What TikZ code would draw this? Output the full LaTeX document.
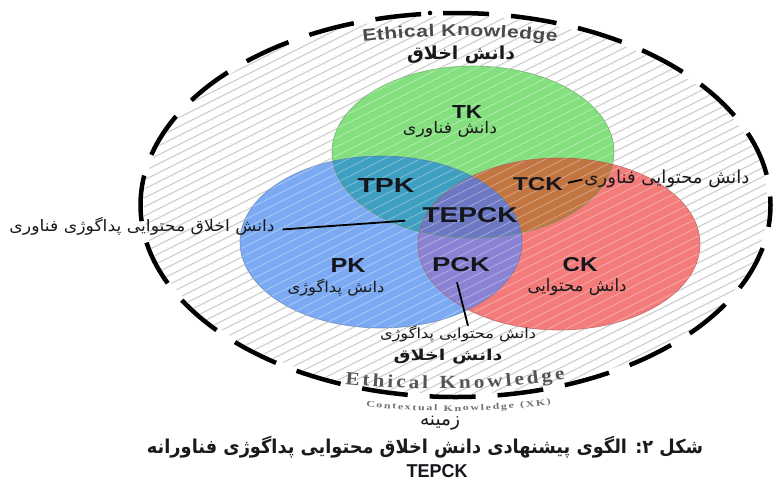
\documentclass[tikz,border=0pt]{standalone}
\usepackage{fontspec}
\usepackage{graphicx}
\usetikzlibrary{decorations.text}
\setmainfont{Liberation Sans}
\newfontfamily\fa[Script=Arabic]{DejaVu Sans}
\newfontfamily\ethA[FakeStretch=1.25]{Liberation Sans}
\newfontfamily\ethB[FakeStretch=1.15]{Liberation Serif}
\newfontfamily\ethC[FakeStretch=1.4]{Liberation Serif}
\TeXXeTstate=1
\newcommand\fabox[3]{\resizebox*{#1pt}{#2pt}{\fa #3}}
\newcommand\faboldbox[3]{\resizebox*{#1pt}{#2pt}{\fa\bfseries #3}}
\newcommand\labbox[3]{\resizebox{#1pt}{#2pt}{\bfseries #3}}
\definecolor{cgreen}{HTML}{84E07F}
\definecolor{cblue}{HTML}{7BAAF2}
\definecolor{cred}{HTML}{F37B7A}
\definecolor{ctpk}{HTML}{3E9FC0}
\definecolor{ctck}{HTML}{C27441}
\definecolor{cpck}{HTML}{8A82D2}
\definecolor{cmid}{HTML}{6C79C2}
\definecolor{hatchgray}{HTML}{B4B4B4}
\definecolor{ethgray}{HTML}{4A4A4A}
\definecolor{ethgraytwo}{HTML}{555555}
\definecolor{ctxgray}{HTML}{707070}
\definecolor{labcol}{HTML}{15151C}
\definecolor{facol}{HTML}{1A1A1A}
\tikzset{
  lab/.style={inner sep=0pt, text=labcol},
  falab/.style={inner sep=0pt, text=facol},
  conn/.style={line width=1.8pt, black},
  hatch/.style={line width=0.9pt, hatchgray},
  hatchlight/.style={line width=0.9pt, white, opacity=0.32},
}
\begin{document}
\begin{tikzpicture}[x=1pt,y=-1pt]
\useasboundingbox (0,0) rectangle (776,483);
\fill[white] (0,0) rectangle (776,483);
% hatching
\begin{scope}
  \clip (455.5,205) ellipse [x radius=312, y radius=189];
  \foreach \c in {180,189,...,700} \draw[hatch] (130,\c-65) -- (790,\c-395);
\end{scope}
% coloured sets
\fill[cgreen] (473,152) ellipse [x radius=141, y radius=86];
\fill[cblue] (381,242) ellipse [x radius=141, y radius=86];
\fill[cred] (559,244) ellipse [x radius=141, y radius=86];
\begin{scope}
  \clip (473,152) ellipse [x radius=141, y radius=86];
  \fill[ctpk] (381,242) ellipse [x radius=141, y radius=86];
  \fill[ctck] (559,244) ellipse [x radius=141, y radius=86];
\end{scope}
\begin{scope}
  \clip (381,242) ellipse [x radius=141, y radius=86];
  \fill[cpck] (559,244) ellipse [x radius=141, y radius=86];
\end{scope}
\begin{scope}
  \clip (473,152) ellipse [x radius=141, y radius=86];
  \clip (381,242) ellipse [x radius=141, y radius=86];
  \fill[cmid] (559,244) ellipse [x radius=141, y radius=86];
\end{scope}
\begin{scope}
  \clip (455.5,205) ellipse [x radius=312, y radius=189];
  \foreach \c in {180,189,...,700} \draw[hatchlight] (130,\c-65) -- (790,\c-395);
\end{scope}
\draw[cgreen!70!black, line width=0.7pt, opacity=0.6] (473,152) ellipse [x radius=141, y radius=86];
\draw[cblue!70!black, line width=0.7pt, opacity=0.6] (381,242) ellipse [x radius=141, y radius=86];
\draw[cred!70!black, line width=0.7pt, opacity=0.6] (559,244) ellipse [x radius=141, y radius=86];
% outer dashed boundary
\draw[line width=4.5pt, dash pattern=on 46pt off 22pt, dash phase=24pt] (455.5,205) ellipse [x radius=315, y radius=192];
\fill (430,13) circle (2.3);
% arched texts
\path[decorate, decoration={text along path, text={|\ethA\bfseries\fontsize{16.8}{18}\selectfont|Ethical Knowledge}, text color=ethgray, text align=fit to path}] (363,42) .. controls (430,34) and (490,34) .. (557,42);
\path[decorate, decoration={text along path, text={|\ethB\bfseries\fontsize{18.5}{20}\selectfont|Ethical Knowledge}, text color=ethgraytwo, text align=fit to path}] (345,384) .. controls (415,391) and (495,391) .. (565,379);
\path[decorate, decoration={text along path, text={|\ethC\bfseries\fontsize{8.5}{9}\selectfont|Contextual Knowledge (XK)}, text color=ctxgray, text align=fit to path}] (366,406) .. controls (420,413) and (495,413) .. (551,404);
% labels
\node[falab] (ethtop) at (461,55) {\faboldbox{108}{18}{\beginR دانش اخلاق\endR}};
\node[lab] (tk) at (467,111.5) {\labbox{30}{13}{TK}};
\node[falab] (tkfa) at (450,129) {\fabox{94}{16}{\beginR دانش فناوری\endR}};
\node[lab] (tpk) at (386,185) {\labbox{57}{14}{TPK}};
\node[lab] (tck) at (538,184) {\labbox{50}{13}{TCK}};
\node[falab] (tckfa) at (667,179) {\fabox{165}{18}{\beginR دانش محتوایی فناوری\endR}};
\node[lab] (tepck) at (470,215.5) {\labbox{95}{15}{TEPCK}};
\node[falab] (leftfa) at (142,226) {\fabox{265}{18}{\beginR دانش اخلاق محتوایی پداگوژی فناوری\endR}};
\node[lab] (pk) at (348,265.5) {\labbox{35}{14}{PK}};
\node[falab] (pkfa) at (336,287.5) {\fabox{97}{17}{\beginR دانش پداگوژی\endR}};
\node[lab] (pck) at (461,265) {\labbox{58}{14}{PCK}};
\node[lab] (ck) at (580,265) {\labbox{35}{14}{CK}};
\node[falab] (ckfa) at (577,287.5) {\fabox{99}{17}{\beginR دانش محتوایی\endR}};
\node[falab] (pckfa) at (458,334) {\fabox{156}{16}{\beginR دانش محتوایی پداگوژی\endR}};
\node[falab] (ethbot) at (448,357) {\faboldbox{109}{15}{\beginR دانش اخلاق\endR}};
\node[falab] (ctxfa) at (440,423) {\fabox{40}{14}{\beginR زمینه\endR}};
\node[falab] (caption) at (425,447) {\faboldbox{556}{22}{\beginR شکل ۲: الگوی پیشنهادی دانش اخلاق محتوایی پداگوژی فناورانه\endR}};
\node[lab] (captep) at (437,471) {\labbox{61}{13}{TEPCK}};
% connectors
\draw[conn, shorten <=5pt, shorten >=2pt] (tck.east) -- (tckfa.west);
\draw[conn, shorten <=8pt, shorten >=17pt] ([yshift=-4pt]leftfa.east) -- ([yshift=-4pt]tepck.west);
\draw[conn] ([xshift=-4pt,yshift=-10pt]pck.south) -- ([xshift=10pt]pckfa.north);
\end{tikzpicture}
\end{document}
